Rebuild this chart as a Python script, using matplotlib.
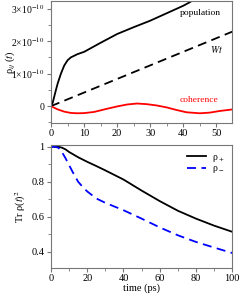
import numpy as np
import matplotlib
matplotlib.use("Agg")
import matplotlib.pyplot as plt
from matplotlib.ticker import MultipleLocator, FuncFormatter

plt.rcParams['font.family'] = ['Liberation Serif', 'DejaVu Serif']
plt.rcParams['mathtext.fontset'] = 'stix'

# top panel data (units of 1e-10)
t_pop = [0, 0.5, 1, 1.5, 2, 3, 4, 5, 6, 8, 10, 15, 20, 25, 30, 35, 40, 42, 43]
pop = [0, 0.1, 0.3, 0.5, 0.69, 1.0, 1.25, 1.41, 1.5, 1.6, 1.67, 1.95, 2.22, 2.43, 2.63, 2.86, 3.09, 3.2, 3.27]
t_wt = [0, 55]
wt = [0, 2.3]
t_coh = [0, 2, 4, 6, 8, 10, 13, 17, 20, 23, 26, 29, 32, 35, 38, 41, 45, 48, 51, 55]
coh = [0, -0.1, -0.17, -0.21, -0.22, -0.215, -0.18, -0.08, -0.01, 0.05, 0.08, 0.06, 0.02, -0.04, -0.12, -0.19, -0.22, -0.2, -0.15, -0.1]

# bottom panel data
t_b = [0, 2, 4, 6, 8, 10, 15, 20, 25, 30, 40, 50, 60, 70, 80, 90, 100]
rho_p = [1.0, 1.0, 1.0, 0.995, 0.985, 0.97, 0.94, 0.914, 0.89, 0.865, 0.813, 0.75, 0.69, 0.635, 0.59, 0.55, 0.515]
t_m = [0, 2, 4, 6, 8, 10, 12, 15, 18, 20, 25, 30, 40, 50, 60, 70, 80, 90, 100]
rho_m = [1.0, 1.0, 0.995, 0.97, 0.935, 0.895, 0.855, 0.8, 0.765, 0.745, 0.705, 0.68, 0.638, 0.59, 0.54, 0.495, 0.457, 0.425, 0.394]

fig = plt.figure(figsize=(2.4, 2.95), dpi=100)
ax1 = fig.add_axes([0.2125, 0.583, 0.755, 0.414])
ax2 = fig.add_axes([0.2125, 0.0925, 0.755, 0.416])

gray = '#777777'
for ax in (ax1, ax2):
    for s in ax.spines.values():
        s.set_color(gray)
        s.set_linewidth(0.8)
    ax.tick_params(which='both', direction='out', color=gray, labelsize=7.5, pad=1.5)
    ax.tick_params(which='major', length=3)
    ax.tick_params(which='minor', length=2)

ax1.plot(t_pop, pop, color='black', lw=1.3)
ax1.plot(t_wt, wt, color='black', lw=1.3, dashes=(5, 3))
ax1.plot(t_coh, coh, color='red', lw=1.3)
ax1.set_xlim(0, 54.8)
ax1.set_ylim(-0.52, 3.24)
ax1.xaxis.set_major_locator(MultipleLocator(10))
ax1.xaxis.set_minor_locator(MultipleLocator(5))
ax1.yaxis.set_major_locator(MultipleLocator(1))
ax1.yaxis.set_minor_locator(MultipleLocator(0.5))
ax1.yaxis.set_major_formatter(FuncFormatter(
    lambda v, p: '0' if abs(v) < 1e-9 else '%d×10$^{-10}$' % round(v)))
ax1.tick_params(axis='y', labelsize=7)
ax1.set_ylabel(r'ρ$_{ij}$ ($t$)', fontsize=7.5)
ax1.yaxis.set_label_coords(-0.19, 0.5)
ax1.text(39, 2.87, 'population', fontsize=6.8, va='center')
ax1.text(48, 1.74, r'$Wt$', fontsize=7, va='center')
ax1.text(39, 0.18, 'coherence', fontsize=6.8, va='center', color='red')

ax2.plot(t_b, rho_p, color='black', lw=1.3, label=r'ρ$_+$')
ax2.plot(t_m, rho_m, color='blue', lw=1.3, dashes=(5, 3), label=r'ρ$_-$')
ax2.set_xlim(0, 100)
ax2.set_ylim(0.31, 1.01)
ax2.xaxis.set_major_locator(MultipleLocator(20))
ax2.xaxis.set_minor_locator(MultipleLocator(10))
ax2.yaxis.set_major_locator(MultipleLocator(0.2))
ax2.yaxis.set_minor_locator(MultipleLocator(0.1))
ax2.yaxis.set_major_formatter(FuncFormatter(lambda v, p: '1' if abs(v - 1) < 1e-9 else '%.1f' % v))
ax2.set_xlabel('time (ps)', fontsize=7.5, labelpad=0)
ax2.set_ylabel(r'Tr ρ($t$)$^2$', fontsize=7.5)
ax2.yaxis.set_label_coords(-0.125, 0.5)
ax2.legend(loc='upper right', frameon=False, fontsize=7, handlelength=2.0,
           labelspacing=0.05, borderaxespad=0.4, handletextpad=0.6)

fig.savefig('out.png', dpi=100)
